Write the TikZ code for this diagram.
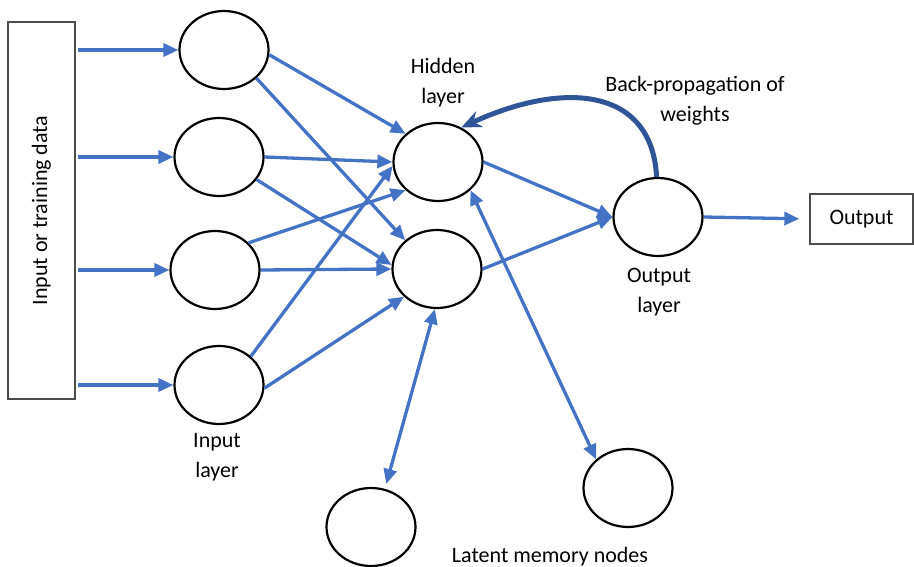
\documentclass[tikz,border=0pt]{standalone}
\usepackage{fontspec}
\setmainfont{Carlito}
\usetikzlibrary{arrows.meta,shapes.geometric}
\definecolor{lblue}{HTML}{4472C4}
\definecolor{dblue}{HTML}{2F5597}
\begin{document}
\begin{tikzpicture}[x=1pt,y=-1pt,
  neuron/.style={ellipse,draw=black,line width=2.2pt,minimum width=89pt,minimum height=78pt,inner sep=0pt},
  conn/.style={draw=lblue,line width=3.3pt,-{Triangle[length=15pt,width=13pt]}},
  both/.style={draw=lblue,line width=3.3pt,{Triangle[length=15pt,width=13pt]}-{Triangle[length=15pt,width=13pt]}},
  bp/.style={draw=dblue,line width=5pt,-{Stealth[length=20pt,width=17pt]}},
  lbl/.style={font=\fontsize{22}{30}\selectfont,align=center,inner sep=0pt},
  box/.style={draw=black!70,line width=1.3pt,inner sep=0pt}]
\useasboundingbox (0,0) rectangle (914,567);
% input data box
\node[box,minimum width=67pt,minimum height=377pt] (in) at (41.5,210.5) {};
\node[lbl,rotate=90] (intxt) at (in.center) {Input or training data};
% output box
\node[box,minimum width=103pt,minimum height=50pt] (Out) at (861.5,219) {};
\node[lbl] (outtxt) at (Out.center) {Output};
% neurons
\node[neuron] (I1) at (224,50) {};
\node[neuron] (I2) at (219,157) {};
\node[neuron] (I3) at (215,270) {};
\node[neuron] (I4) at (219,385) {};
\node[neuron] (H1) at (438,162) {};
\node[neuron] (H2) at (437,269) {};
\node[neuron] (O) at (658,217) {};
\node[neuron] (L1) at (371,527) {};
\node[neuron] (L2) at (628,488) {};
% labels
\node[lbl] (lh) at (443,83) {Hidden\\layer};
\node[lbl] (lb) at (695,101) {Back-propagation of\\weights};
\node[lbl] (lo) at (659,292) {Output\\layer};
\node[lbl] (li) at (217,457) {Input\\layer};
\node[lbl] (ll) at (550,557) {Latent memory nodes};
% data to input
\draw[conn,shorten <=2pt] (in.east |- I1.west) -- (I1.west);
\draw[conn,shorten <=2pt] (in.east |- I2.west) -- (I2.west);
\draw[conn,shorten <=2pt] (in.east |- I3.west) -- (I3.west);
\draw[conn,shorten <=2pt] (in.east |- I4.west) -- (I4.west);
% input to hidden
\draw[conn] (I1.-6) -- (H1.139);
\draw[conn] (I1.-41) -- (H2.138);
\draw[conn] (I2.0) -- (H1.180);
\draw[conn] (I2.-31) -- (H2.175);
\draw[conn] (I3.39) -- (H1.221);
\draw[conn] (I3.0) -- (H2.180);
\draw[conn] (I4.42) -- (H1.185);
\draw[conn] (I4.-4) -- (H2.220);
% hidden to output
\draw[conn] (H1.0) -- (O.180);
\draw[conn] (H2.0) -- (O.180);
\draw[conn,shorten >=10pt] (O.east) -- (Out.west);
% latent memory
\draw[both,shorten >=5pt] (H2.-93) -- (L1.70);
\draw[both] (H1.-41) -- (L2.138);
% back-propagation
\draw[bp] (O.92) .. controls (652,88) and (565,80) .. (H1.56);
\end{tikzpicture}
\end{document}
